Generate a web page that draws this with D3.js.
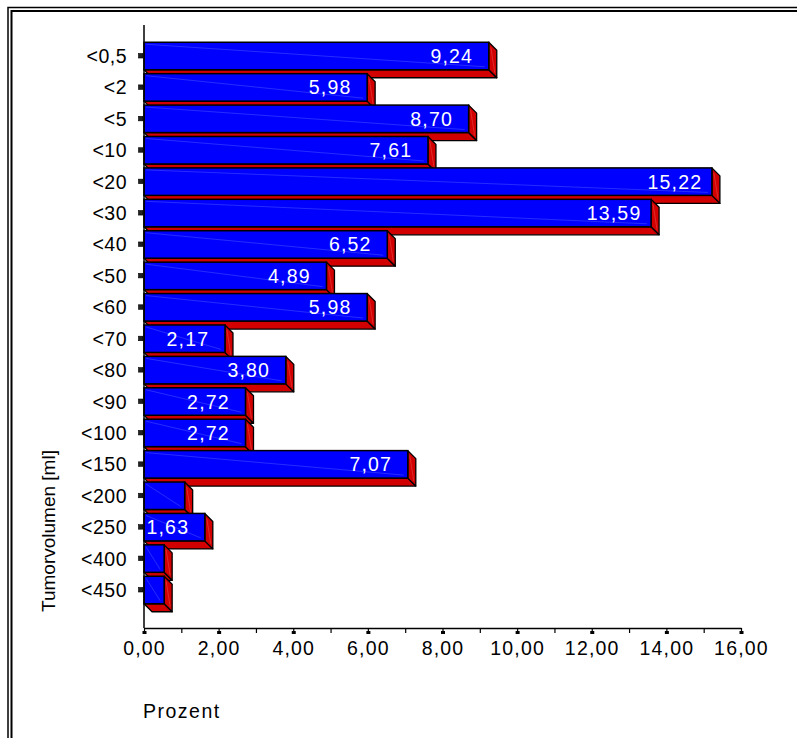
<!DOCTYPE html>
<html>
<head>
<meta charset="utf-8">
<script src="https://cdn.jsdelivr.net/npm/d3@7"></script>
<style>
  html, body { margin: 0; padding: 0; background: #fff; }
  svg { display: block; }
  text { font-family: "Liberation Sans", Arial, sans-serif; }
</style>
</head>
<body>
<svg id="chart" width="797" height="738"></svg>
<script>
// ---- data ----
const categories = ["<0,5", "<2", "<5", "<10", "<20", "<30", "<40", "<50", "<60", "<70",
                    "<80", "<90", "<100", "<150", "<200", "<250", "<400", "<450"];
const percent = [9.24, 5.98, 8.70, 7.61, 15.22, 13.59, 6.52, 4.89, 5.98, 2.17,
                 3.80, 2.72, 2.72, 7.07, 1.09, 1.63, 0.54, 0.54];
const xTickValues = [0, 2, 4, 6, 8, 10, 12, 14, 16];
const xMinorTickValues = [1, 3, 5, 7, 9, 11, 13, 15];
const xTickLabels = ["0,00", "2,00", "4,00", "6,00", "8,00", "10,00", "12,00", "14,00", "16,00"];
const xTitle = "Prozent";
const yTitle = "Tumorvolumen [ml]";

// ---- layout ----
const svg = d3.select("#chart");
const W = 797, H = 738;
const x = d3.scaleLinear().domain([0, 16]).range([144, 741]);
const y = d3.scaleBand().domain(categories).range([40.3, 605.7])
  .paddingInner(0.125).paddingOuter(0.0625);
const axisY = 628;
const dx = 8, dy = 8;
const FS = 19.5, LS = 1.2;
const fmt = v => d3.format(".2f")(v).replace(".", ",");

// frame (double border)
svg.append("rect").attr("x", 8).attr("y", 7.5).attr("width", W + 20).attr("height", H + 20)
  .attr("fill", "none").attr("stroke", "#000").attr("stroke-width", 1.5);
svg.append("rect").attr("x", 11.5).attr("y", 11).attr("width", W + 20).attr("height", H + 20)
  .attr("fill", "none").attr("stroke", "#000").attr("stroke-width", 2);

// bars (3D)
const bars = svg.append("g");
categories.forEach((c, i) => {
  const v = percent[i];
  const x0 = x(0), x1 = x(v);
  const y0 = y(c), y1 = y(c) + y.bandwidth();
  const g = bars.append("g");
  // bottom face
  g.append("polygon")
    .attr("points", [[x0, y1], [x1, y1], [x1 + dx, y1 + dy], [x0 + dx, y1 + dy]].map(p => p.join(",")).join(" "))
    .attr("fill", "#d20000").attr("stroke", "#000").attr("stroke-width", 1.3).attr("stroke-linejoin", "round");
  // side face
  g.append("polygon")
    .attr("points", [[x1, y0], [x1 + dx, y0 + dy], [x1 + dx, y1 + dy], [x1, y1]].map(p => p.join(",")).join(" "))
    .attr("fill", "#d20000").attr("stroke", "#000").attr("stroke-width", 1.3).attr("stroke-linejoin", "round");
  // faint highlight on side face
  g.append("line")
    .attr("x1", x1 + 2).attr("y1", y0 + 5).attr("x2", x1 + dx - 2).attr("y2", y1 + dy - 5)
    .attr("stroke", "rgba(255,150,150,0.4)").attr("stroke-width", 0.7);
  // front face
  g.append("rect")
    .attr("x", x0).attr("y", y0).attr("width", x1 - x0).attr("height", y.bandwidth())
    .attr("fill", "#0000ff").attr("stroke", "#000").attr("stroke-width", 1.5);
  // faint diagonal glint on front face
  g.append("line")
    .attr("x1", x0 + 2).attr("y1", y0 + 2).attr("x2", x1 - 4).attr("y2", y1 - 3)
    .attr("stroke", "rgba(120,140,255,0.45)").attr("stroke-width", 0.7);
  // value label
  if (x1 - x0 > 50) {
    g.append("text")
      .attr("x", x1 - 37).attr("y", (y0 + y1) / 2 + 7)
      .attr("text-anchor", "middle").attr("fill", "#fff")
      .attr("font-size", FS).attr("letter-spacing", LS)
      .text(fmt(v));
  }
});

// y axis line
svg.append("line").attr("x1", 144).attr("x2", 144).attr("y1", 25).attr("y2", axisY)
  .attr("stroke", "#000").attr("stroke-width", 1.5);
// y ticks (small squares) and labels
categories.forEach(c => {
  const cy = y(c) + y.bandwidth() / 2;
  svg.append("rect").attr("x", 138.5).attr("y", cy - 2.5).attr("width", 4.5).attr("height", 4.5)
    .attr("fill", "#222").attr("stroke", "#000").attr("stroke-width", 0.6);
  svg.append("text").attr("x", 127).attr("y", cy + 7).attr("text-anchor", "end")
    .attr("font-size", FS).attr("letter-spacing", 0.5).attr("fill", "#000").text(c);
});

// x axis
const xAxis = d3.axisBottom(x).tickValues(xTickValues).tickSize(5)
  .tickFormat((d, i) => xTickLabels[i]).tickSizeOuter(0);
const gx = svg.append("g").attr("transform", `translate(0,${axisY})`).call(xAxis);
gx.select(".domain").attr("stroke", "#000").attr("stroke-width", 1.5);
gx.selectAll(".tick line").attr("stroke", "#000").attr("stroke-width", 1.2);
gx.selectAll(".tick").append("rect").attr("x", -2).attr("y", 3).attr("width", 4).attr("height", 3).attr("fill", "#000");
gx.selectAll(".tick text").attr("y", 13).attr("dy", "0.71em")
  .attr("font-size", FS).attr("letter-spacing", LS)
  .attr("font-family", "Liberation Sans, Arial, sans-serif").attr("fill", "#000");
const gxm = svg.append("g").attr("transform", `translate(0,${axisY})`)
  .call(d3.axisBottom(x).tickValues(xMinorTickValues).tickSize(5).tickFormat(""));
gxm.select(".domain").remove();
gxm.selectAll(".tick line").attr("stroke", "#000").attr("stroke-width", 1.2);

// titles
svg.append("text").attr("x", 143).attr("y", 718).attr("font-size", FS).attr("letter-spacing", 1.5)
  .attr("fill", "#000").text(xTitle);
svg.append("text").attr("transform", "translate(55,531) rotate(-90)").attr("text-anchor", "middle")
  .attr("font-size", 19).attr("fill", "#000").text(yTitle);
</script>
</body>
</html>
